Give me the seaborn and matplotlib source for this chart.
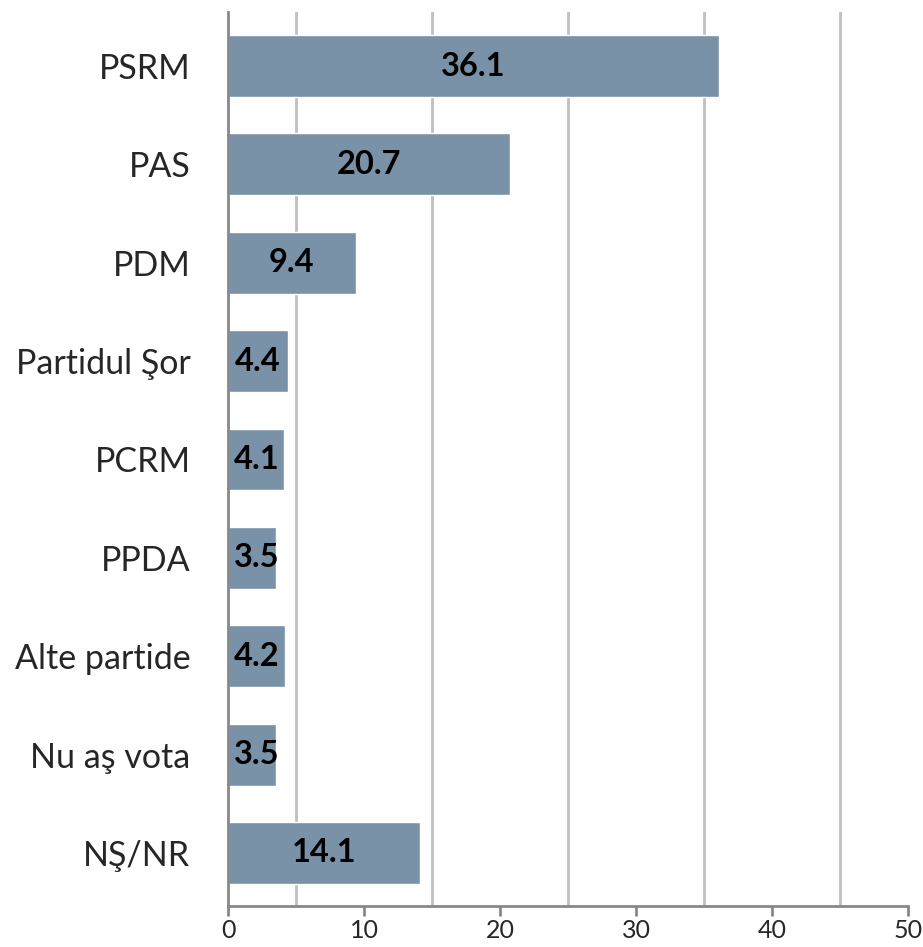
import matplotlib
matplotlib.use("Agg")
import matplotlib.pyplot as plt
import seaborn as sns
import pandas as pd

categories = ["PSRM", "PAS", "PDM", "Partidul Şor", "PCRM", "PPDA", "Alte partide", "Nu aş vota", "NŞ/NR"]
values = [36.1, 20.7, 9.4, 4.4, 4.1, 3.5, 4.2, 3.5, 14.1]
xticks = [0, 10, 20, 30, 40, 50]
gridlines = [5, 15, 25, 35, 45]

sns.set_theme(style="white")
plt.rcParams['font.family'] = ['Lato', 'DejaVu Sans']

df = pd.DataFrame({"cat": categories, "val": values})

fig = plt.figure(figsize=(9.23, 9.47), dpi=100)
ax = fig.add_axes([228/923, 1 - 906/947, 680/923, 894/947])

for g in gridlines:
    ax.axvline(g, color="#BFBFBF", lw=2, zorder=0)

sns.barplot(data=df, x="val", y="cat", orient="h", color="#7A92A8", width=0.63,
            saturation=1, ax=ax, zorder=2)

for i, v in enumerate(values):
    ax.text(max(v / 2, 2.1), i, f"{v:.1f}", ha="center", va="center",
            fontsize=23.5, fontweight="bold", color="black", zorder=3)

ax.set_xlim(0, 50)
ax.set_ylim(8.54, -0.55)
ax.set_xticks(xticks)
ax.set_xlabel("")
ax.set_ylabel("")
for s in ["top", "right"]:
    ax.spines[s].set_visible(False)
ax.spines["left"].set_color("#888888")
ax.spines["left"].set_linewidth(2)
ax.spines["bottom"].set_color("#888888")
ax.spines["bottom"].set_linewidth(2)
ax.tick_params(axis="x", bottom=True, direction="out", length=7, width=2, color="#888888",
               labelsize=18, pad=2)
ax.tick_params(axis="y", left=False, length=0, labelsize=24.5, pad=27)

fig.savefig("out.png", dpi=100)
